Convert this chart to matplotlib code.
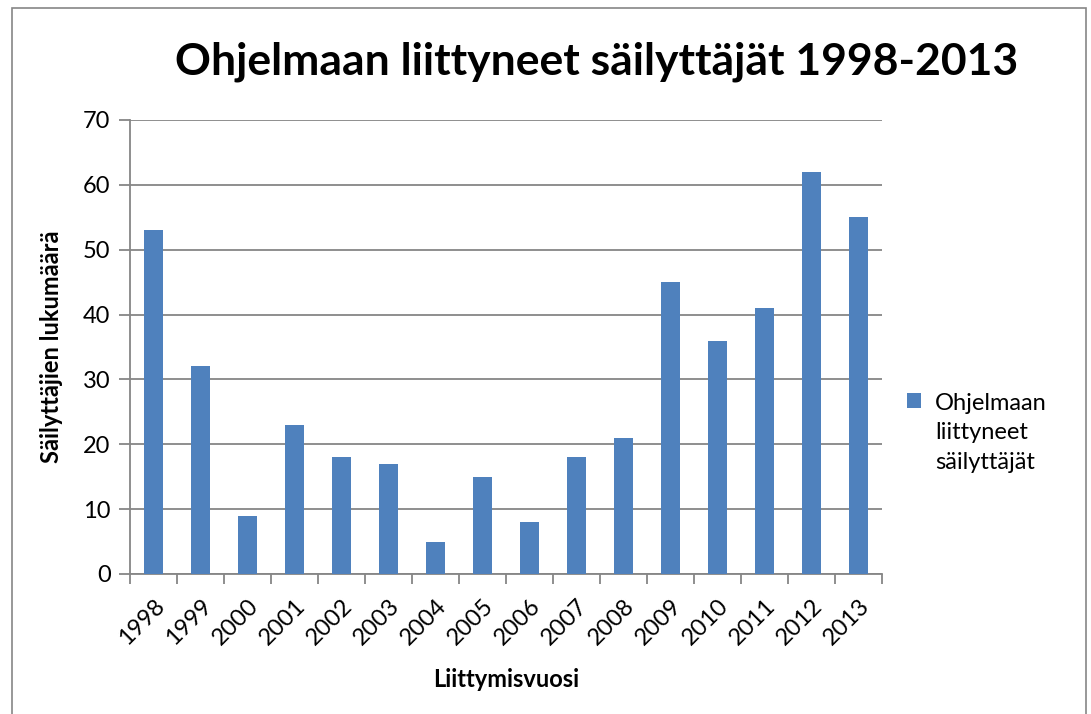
import matplotlib.pyplot as plt
import numpy as np
from matplotlib.patches import Rectangle

plt.rcParams['font.family'] = ['Lato', 'DejaVu Sans']

# data
years = ['1998', '1999', '2000', '2001', '2002', '2003', '2004', '2005',
         '2006', '2007', '2008', '2009', '2010', '2011', '2012', '2013']
counts = [53, 32, 9, 23, 18, 17, 5, 15, 8, 18, 21, 45, 36, 41, 62, 55]
yticks = [0, 10, 20, 30, 40, 50, 60, 70]

grey = '#868686'
blue = '#4F81BD'

fig = plt.figure(figsize=(10.91, 7.14), dpi=100)
# outer chart border (bottom edge is off the picture)
fig.patches.append(Rectangle((12 / 1091, -0.05), 1074 / 1091, 1.05 - 8 / 714,
                             transform=fig.transFigure, fill=False,
                             edgecolor=grey, linewidth=1.2))

ax = fig.add_axes([130 / 1091, 1 - 574 / 714, 752 / 1091, 454 / 714])
x = np.arange(len(years))
ax.bar(x, counts, width=0.4, color=blue, zorder=3,
       label='Ohjelmaan\nliittyneet\nsäilyttäjät')

ax.set_xlim(-0.5, len(years) - 0.5)
ax.set_ylim(0, 70)
ax.set_yticks(yticks)
ax.yaxis.grid(True, color=grey, linewidth=1.3, zorder=0)
for s in ['top', 'right']:
    ax.spines[s].set_visible(False)
for s in ['left', 'bottom']:
    ax.spines[s].set_color(grey)
    ax.spines[s].set_linewidth(1.3)

ax.tick_params(axis='y', length=8, width=1.3, color=grey, labelsize=17, pad=6)
ax.set_xticks(x)
ax.set_xticklabels(years, rotation=45, ha='right', va='top',
                   rotation_mode='anchor', fontsize=17)
ax.tick_params(axis='x', which='major', length=0, pad=15)
ax.set_xticks(np.arange(-0.5, len(years)), minor=True)
ax.tick_params(axis='x', which='minor', length=7, width=1.3, color=grey)

ax.set_ylabel('Säilyttäjien lukumäärä', fontsize=17, fontweight='bold', labelpad=14)
ax.set_xlabel('Liittymisvuosi', fontsize=17, fontweight='bold', labelpad=14)

fig.text(597 / 1091, 1 - 62 / 714, 'Ohjelmaan liittyneet säilyttäjät 1998-2013',
         ha='center', va='center', fontsize=32, fontweight='bold')

leg = fig.legend(loc='upper left', bbox_to_anchor=(895 / 1091, 1 - 381 / 714),
                 frameon=False, fontsize=17, handlelength=0.6, handleheight=0.6,
                 handletextpad=0.6, borderpad=0)
for t in leg.get_texts():
    t.set_linespacing(1.5)
# put the square next to the first line of the label
for col in leg._legend_handle_box.get_children():
    for row in col.get_children():
        row.align = 'top'

fig.savefig('out.png', dpi=100)
